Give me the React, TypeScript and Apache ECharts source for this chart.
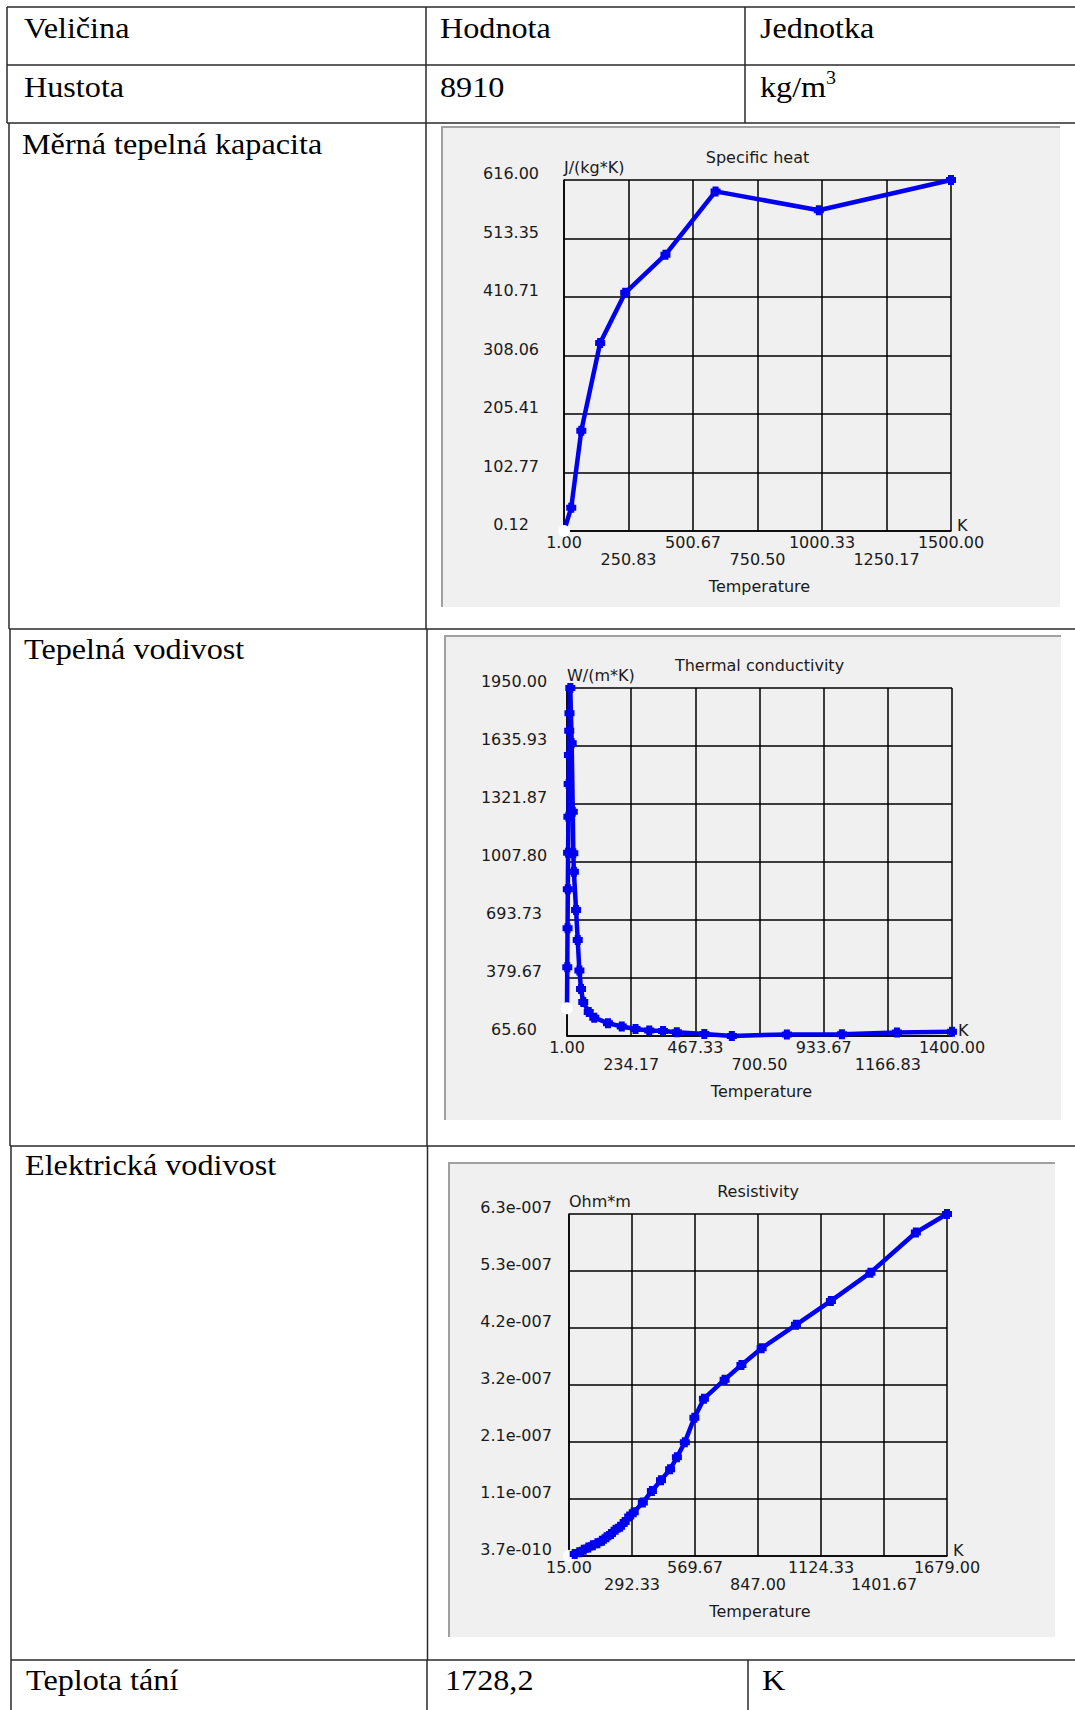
import React, { useEffect, useRef } from "react";
import * as echarts from "echarts";

// ---------- DATA ----------
// Specific heat
const heatT = [1, 29, 68, 141, 238, 394, 588, 988, 1500];
const heatCp = [0.12, 41, 176, 330, 418, 485, 596, 563, 616];
const heatXTicks = ["1.00", "250.83", "500.67", "750.50", "1000.33", "1250.17", "1500.00"];
const heatYTicks = ["0.12", "102.77", "205.41", "308.06", "410.71", "513.35", "616.00"];

// Thermal conductivity
const condT = [1, 2, 3, 4, 5, 6, 7, 8, 9, 10, 13, 18, 22, 24, 26, 34, 40, 46, 52, 60, 80, 100, 150, 200, 250, 300, 350, 400, 500, 600, 800, 1000, 1200, 1400];
const condK = [216, 438, 649, 860, 1058, 1253, 1430, 1587, 1719, 1813, 1950, 1651, 1280, 1055, 955, 748, 585, 420, 320, 250, 195, 165, 135, 117, 104, 95, 93, 86, 76, 66, 74, 75, 85, 88];
const condXTicks = ["1.00", "234.17", "467.33", "700.50", "933.67", "1166.83", "1400.00"];
const condYTicks = ["65.60", "379.67", "693.73", "1007.80", "1321.87", "1635.93", "1950.00"];

// Resistivity
const resT = [15, 40, 60, 80, 100, 120, 140, 160, 180, 200, 220, 240, 260, 280, 300, 340, 380, 420, 460, 490, 525, 567, 609, 700, 774, 863, 1014, 1168, 1342, 1542, 1679];
const resRho = [4e-10, 4.0e-9, 7.5e-9, 1.2e-8, 1.6e-8, 2.0e-8, 2.4e-8, 2.85e-8, 3.5e-8, 4.1e-8, 4.85e-8, 5.4e-8, 6.3e-8, 7.3e-8, 8.1e-8, 9.9e-8, 1.2e-7, 1.4e-7, 1.6e-7, 1.82e-7, 2.1e-7, 2.55e-7, 2.9e-7, 3.25e-7, 3.52e-7, 3.83e-7, 4.26e-7, 4.7e-7, 5.22e-7, 5.96e-7, 6.3e-7];
const resXTicks = ["15.00", "292.33", "569.67", "847.00", "1124.33", "1401.67", "1679.00"];
const resYTicks = ["3.7e-010", "1.1e-007", "2.1e-007", "3.2e-007", "4.2e-007", "5.3e-007", "6.3e-007"];

// Table texts
const tableRows = [
  ["Veličina", "Hodnota", "Jednotka"],
  ["Hustota", "8910", "kg/m"],
  ["Měrná tepelná kapacita", "", ""],
  ["Tepelná vodivost", "", ""],
  ["Elektrická vodivost", "", ""],
  ["Teplota tání", "1728,2", "K"],
];

// ---------- STYLE ----------
const BLUE = "#0000f0";
const LABEL_FONT = "DejaVu Sans";
const LABEL_SIZE = 16;
const LABEL_COLOR = "#1a1a1a";
const TABLE_FONT = "Liberation Serif";
const MARKER = "path://M2,0H8V2H10V8H8V10H2V8H0V2H2Z";

type ChartDef = {
  xs: number[];
  ys: number[];
  xMin: number;
  xMax: number;
  yMin: number;
  yMax: number;
  xTicks: string[];
  yTicks: string[];
  grid: { left: number; top: number; width: number; height: number };
  unit: string;
  title: string;
  panel: { x: number; y: number; w: number; h: number };
};

const charts: ChartDef[] = [
  {
    xs: heatT, ys: heatCp, xMin: 1, xMax: 1500, yMin: 0.12, yMax: 616,
    xTicks: heatXTicks, yTicks: heatYTicks,
    grid: { left: 564, top: 180, width: 387, height: 351 },
    unit: "J/(kg*K)", title: "Specific heat",
    panel: { x: 442, y: 127, w: 618, h: 480 },
  },
  {
    xs: condT, ys: condK, xMin: 1, xMax: 1400, yMin: 65.6, yMax: 1950,
    xTicks: condXTicks, yTicks: condYTicks,
    grid: { left: 567, top: 688, width: 385, height: 348 },
    unit: "W/(m*K)", title: "Thermal conductivity",
    panel: { x: 445, y: 636, w: 616, h: 484 },
  },
  {
    xs: resT, ys: resRho, xMin: 15, xMax: 1679, yMin: 3.7e-10, yMax: 6.3e-7,
    xTicks: resXTicks, yTicks: resYTicks,
    grid: { left: 569, top: 1214, width: 378, height: 342 },
    unit: "Ohm*m", title: "Resistivity",
    panel: { x: 449, y: 1163, w: 606, h: 474 },
  },
];

function buildOption() {
  const grids: any[] = [];
  const xAxes: any[] = [];
  const yAxes: any[] = [];
  const series: any[] = [];
  const graphic: any[] = [];

  // table lines
  const lineStyle = { stroke: "#2a2a2a", lineWidth: 1.5 };
  const hl = (y: number, x1: number) => ({ type: "line", z: 5, shape: { x1, y1: y, x2: 1075, y2: y }, style: lineStyle });
  const vl = (x: number, y1: number, y2: number) => ({ type: "line", z: 5, shape: { x1: x, y1, x2: x, y2 }, style: lineStyle });
  graphic.push(hl(7, 7), hl(65, 7), hl(123, 7), hl(629, 9), hl(1146, 10), hl(1660, 11));
  graphic.push(vl(7, 7, 123), vl(9, 123, 629), vl(10, 629, 1146), vl(11, 1146, 1710));
  graphic.push(vl(426, 7, 123), vl(426, 123, 629), vl(427, 629, 1146), vl(427.5, 1146, 1660), vl(427, 1660, 1710));
  graphic.push(vl(745, 7, 123), vl(748, 1660, 1710));

  // table texts
  const rowY = [28.5, 87.5, 144.5, 649.5, 1166, 1681];
  const colX = [[24, 440, 760], [24, 440, 760], [22], [24], [25], [26, 445, 762]];
  tableRows.forEach((row, r) => {
    row.forEach((t, c) => {
      if (!t) return;
      graphic.push({
        type: "text", z: 10, x: colX[r][c], y: rowY[r], scaleX: 1.11,
        style: { text: t, fontFamily: TABLE_FONT, fontSize: 29, fill: "#000", align: "left", verticalAlign: "middle" },
      });
    });
  });
  graphic.push({
    type: "text", z: 10, x: 826, y: 77.5, scaleX: 1.11,
    style: { text: "3", fontFamily: TABLE_FONT, fontSize: 18, fill: "#000", align: "left", verticalAlign: "middle" },
  });

  charts.forEach((ch, i) => {
    const xStep = (ch.xMax - ch.xMin) / 6;
    const yStep = (ch.yMax - ch.yMin) / 6;
    const g = ch.grid;
    grids.push({ left: g.left, top: g.top, width: g.width, height: g.height, containLabel: false });

    // panel
    graphic.push({
      type: "rect", z: -10, shape: { x: ch.panel.x, y: ch.panel.y, width: ch.panel.w, height: ch.panel.h },
      style: { fill: "#f0f0f0" },
    });
    graphic.push({
      type: "polyline", z: -9,
      shape: { points: [[ch.panel.x, ch.panel.y + ch.panel.h], [ch.panel.x, ch.panel.y], [ch.panel.x + ch.panel.w, ch.panel.y]] },
      style: { stroke: "#a0a0a0", lineWidth: 2, fill: null },
    });
    // title & x axis caption
    graphic.push({
      type: "text", z: 10, x: g.left + g.width / 2, y: g.top - 23,
      style: { text: ch.title, fontFamily: LABEL_FONT, fontSize: LABEL_SIZE, fill: LABEL_COLOR, align: "center", verticalAlign: "middle" },
    });
    graphic.push({
      type: "text", z: 10, x: g.left + g.width / 2 + 2, y: g.top + g.height + 55,
      style: { text: "Temperature", fontFamily: LABEL_FONT, fontSize: LABEL_SIZE, fill: LABEL_COLOR, align: "center", verticalAlign: "middle" },
    });

    const axisCommon = {
      min: 0, max: 6, interval: 1,
      axisLine: { show: true, lineStyle: { color: "#000", width: 1.5 } },
      axisTick: { show: false },
      splitLine: { show: true, lineStyle: { color: "#000", width: 1.5 } },
    };
    const xLabelBase = {
      fontFamily: LABEL_FONT, fontSize: LABEL_SIZE, color: LABEL_COLOR, lineHeight: 17,
      verticalAlign: "top", showMinLabel: true, showMaxLabel: true, hideOverlap: false,
    };
    // main x axis: even tick labels (first row)
    xAxes.push({
      ...axisCommon, type: "value", gridIndex: i, position: "bottom",
      name: "K", nameLocation: "end", nameGap: 6, nameMoveOverlap: false,
      nameTextStyle: { fontFamily: LABEL_FONT, fontSize: LABEL_SIZE, color: LABEL_COLOR, align: "left", verticalAlign: "bottom", lineHeight: 11 },
      axisLabel: {
        ...xLabelBase, margin: 3,
        formatter: (v: number) => {
          const k = Math.round(v);
          return k % 2 ? "" : ch.xTicks[k];
        },
      },
    });
    // companion x axis: odd tick labels (second row)
    xAxes.push({
      type: "value", gridIndex: i, position: "bottom", min: 0, max: 6, interval: 1,
      axisLine: { show: false }, axisTick: { show: false }, splitLine: { show: false },
      axisLabel: {
        ...xLabelBase, margin: 20,
        formatter: (v: number) => {
          const k = Math.round(v);
          return k % 2 ? ch.xTicks[k] : "";
        },
      },
    });
    yAxes.push({
      ...axisCommon, type: "value", gridIndex: i,
      name: ch.unit, nameLocation: "end", nameGap: 13, nameMoveOverlap: false,
      nameTextStyle: { fontFamily: LABEL_FONT, fontSize: LABEL_SIZE, color: LABEL_COLOR, align: "left", verticalAlign: "middle" },
      axisLabel: {
        fontFamily: LABEL_FONT, fontSize: LABEL_SIZE, color: LABEL_COLOR, margin: 53, align: "center",
        verticalAlign: "bottom", lineHeight: 13, showMinLabel: true, showMaxLabel: true, hideOverlap: false,
        formatter: (v: number) => ch.yTicks[Math.round(v)],
      },
    });

    const data = ch.xs.map((x, k) => {
      const pt = [(x - ch.xMin) / xStep, (ch.ys[k] - ch.yMin) / yStep];
      if (k === 0) return { value: pt, symbol: "circle", symbolSize: 12, itemStyle: { color: "#ffffff", borderWidth: 0 } };
      return { value: pt };
    });
    series.push({
      type: "line", xAxisIndex: 2 * i, yAxisIndex: i, data, clip: false,
      symbol: MARKER, symbolSize: 10, showAllSymbol: true,
      lineStyle: { color: BLUE, width: 4.5 },
      itemStyle: { color: BLUE },
      z: 3,
    });
  });

  return {
    animation: false,
    backgroundColor: "#ffffff",
    grid: grids,
    xAxis: xAxes,
    yAxis: yAxes,
    series,
    graphic,
  };
}

export default function App() {
  const ref = useRef<HTMLDivElement>(null);
  useEffect(() => {
    if (!ref.current) return;
    const chart = echarts.init(ref.current, undefined, { renderer: "svg" });
    chart.setOption(buildOption() as any);
    return () => chart.dispose();
  }, []);
  return (
    <div
      ref={ref}
      style={{ position: "absolute", left: 0, top: 0, width: 1075, height: 1710 }}
    />
  );
}
